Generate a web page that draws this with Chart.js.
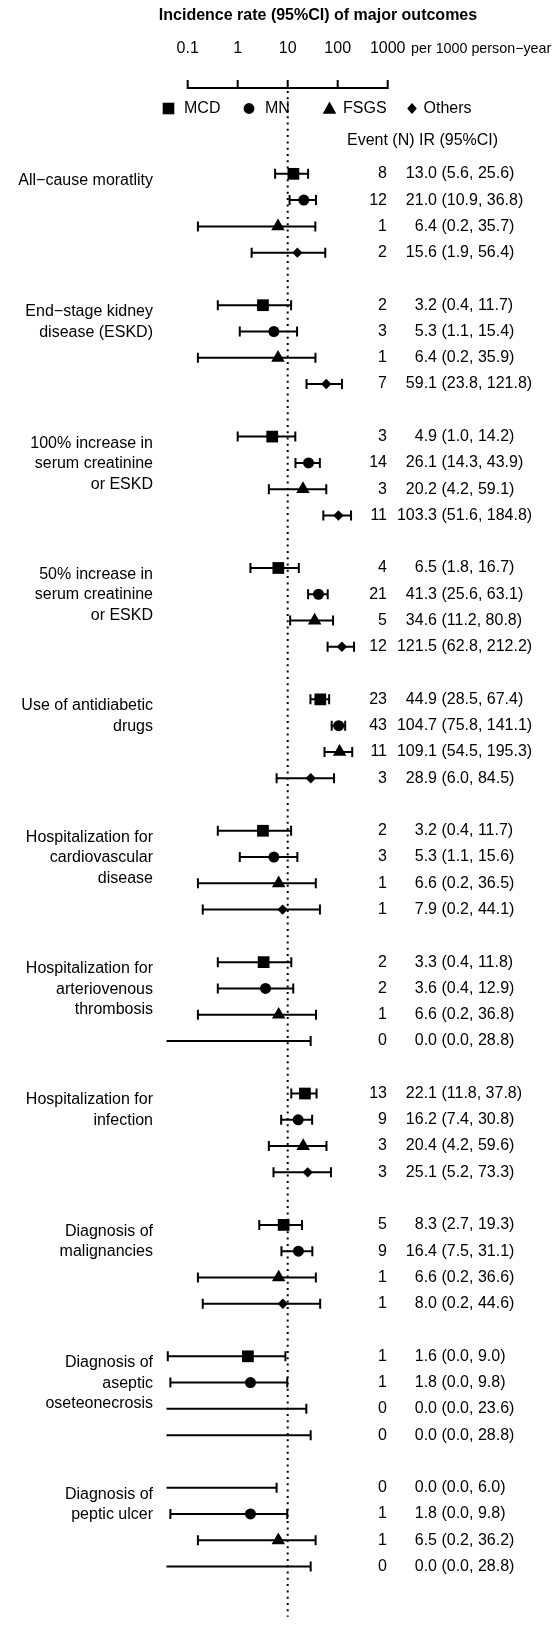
<!DOCTYPE html>
<html><head><meta charset="utf-8">
<script src="https://cdn.jsdelivr.net/npm/chart.js@4.4.1/dist/chart.umd.min.js"></script>
<style>html,body{margin:0;padding:0;background:#fff}canvas{display:block}</style>
</head><body>
<canvas id="c" width="558" height="1625"></canvas>
<script>
// ---------- data ----------
const outcomes = [
  ["All\u2212cause moratlity"],
  ["End\u2212stage kidney", "disease (ESKD)"],
  ["100% increase in", "serum creatinine", "or ESKD"],
  ["50% increase in", "serum creatinine", "or ESKD"],
  ["Use of antidiabetic", "drugs"],
  ["Hospitalization for", "cardiovascular", "disease"],
  ["Hospitalization for", "arteriovenous", "thrombosis"],
  ["Hospitalization for", "infection"],
  ["Diagnosis of", "malignancies"],
  ["Diagnosis of", "aseptic", "oseteonecrosis"],
  ["Diagnosis of", "peptic ulcer"]
];
const subtypes = ["MCD", "MN", "FSGS", "Others"];
const events = [
  [8, 12, 1, 2], [2, 3, 1, 7], [3, 14, 3, 11], [4, 21, 5, 12], [23, 43, 11, 3],
  [2, 3, 1, 1], [2, 2, 1, 0], [13, 9, 3, 3], [5, 9, 1, 1], [1, 1, 0, 0], [0, 1, 1, 0]
];
const rate = [
  [13.0, 21.0, 6.4, 15.6], [3.2, 5.3, 6.4, 59.1], [4.9, 26.1, 20.2, 103.3],
  [6.5, 41.3, 34.6, 121.5], [44.9, 104.7, 109.1, 28.9], [3.2, 5.3, 6.6, 7.9],
  [3.3, 3.6, 6.6, 0.0], [22.1, 16.2, 20.4, 25.1], [8.3, 16.4, 6.6, 8.0],
  [1.6, 1.8, 0.0, 0.0], [0.0, 1.8, 6.5, 0.0]
];
const lower = [
  [5.6, 10.9, 0.16, 1.9], [0.4, 1.1, 0.16, 23.8], [1.0, 14.3, 4.2, 51.6],
  [1.8, 25.6, 11.2, 62.8], [28.5, 75.8, 54.5, 6.0], [0.4, 1.1, 0.16, 0.2],
  [0.4, 0.4, 0.16, 0.0], [11.8, 7.4, 4.2, 5.2], [2.7, 7.5, 0.16, 0.2],
  [0.04, 0.045, 0.0, 0.0], [0.0, 0.045, 0.16, 0.0]
];
const upper = [
  [25.6, 36.8, 35.7, 56.4], [11.7, 15.4, 35.9, 121.8], [14.2, 43.9, 59.1, 184.8],
  [16.7, 63.1, 80.8, 212.2], [67.4, 141.1, 195.3, 84.5], [11.7, 15.6, 36.5, 44.1],
  [11.8, 12.9, 36.8, 28.8], [37.8, 30.8, 59.6, 73.3], [19.3, 31.1, 36.6, 44.6],
  [9.0, 9.8, 23.6, 28.8], [6.0, 9.8, 36.2, 28.8]
];
const axisTicks = [0.1, 1, 10, 100, 1000];
const refValue = 10;
const pointStyles = ["rect", "circle", "triangle", "rectRot"];
const pointRadii = [8.3, 5.5, 7.8, 5.2];

// ---------- chart ----------
const FONT = '"Liberation Sans", Arial, Helvetica, sans-serif';
const ROWS_PER_GROUP = 5;
const AXIS_Y = 88;

const datasets = subtypes.map((name, s) => ({
  label: name,
  data: outcomes.map((_, g) => rate[g][s] > 0 ? { x: rate[g][s], y: g * ROWS_PER_GROUP + s } : null).filter(Boolean),
  pointStyle: pointStyles[s],
  pointRadius: pointRadii[s],
  pointHoverRadius: pointRadii[s],
  backgroundColor: '#000',
  borderColor: '#000',
  borderWidth: 0,
  showLine: false,
  clip: false
}));

function drawMarker(ctx, style, cx, cy) {
  ctx.beginPath();
  if (style === 'rect') { ctx.rect(cx - 5.8, cy - 5.8, 11.6, 11.6); }
  else if (style === 'circle') { ctx.arc(cx, cy, 5.4, 0, Math.PI * 2); }
  else if (style === 'triangle') { ctx.moveTo(cx, cy - 7); ctx.lineTo(cx + 6.8, cy + 5.2); ctx.lineTo(cx - 6.8, cy + 5.2); ctx.closePath(); }
  else { ctx.moveTo(cx, cy - 5.4); ctx.lineTo(cx + 4.8, cy); ctx.lineTo(cx, cy + 5.4); ctx.lineTo(cx - 4.8, cy); ctx.closePath(); }
  ctx.fill();
}

const forestPlugin = {
  id: 'forest',
  beforeDatasetsDraw(chart) {
    const { ctx, chartArea, scales: { x, y } } = chart;
    ctx.save();
    ctx.strokeStyle = '#000';
    // reference dotted line
    const xr = x.getPixelForValue(refValue);
    ctx.lineWidth = 2;
    ctx.setLineDash([2, 4.3]);
    ctx.beginPath();
    ctx.moveTo(xr, AXIS_Y + 3);
    ctx.lineTo(xr, chartArea.bottom);
    ctx.stroke();
    ctx.setLineDash([]);
    // CI bars
    ctx.lineWidth = 2;
    outcomes.forEach((_, g) => subtypes.forEach((__, s) => {
      const yy = y.getPixelForValue(g * ROWS_PER_GROUP + s);
      const lo = lower[g][s], hi = upper[g][s];
      const x0 = lo > 0 ? x.getPixelForValue(lo) : chartArea.left;
      const x1 = x.getPixelForValue(hi);
      ctx.beginPath();
      ctx.moveTo(x0, yy); ctx.lineTo(x1, yy);
      ctx.moveTo(x1, yy - 5); ctx.lineTo(x1, yy + 5);
      if (lo > 0) { ctx.moveTo(x0, yy - 5); ctx.lineTo(x0, yy + 5); }
      ctx.stroke();
    }));
    ctx.restore();
  },
  afterDraw(chart) {
    const { ctx, scales: { x, y } } = chart;
    ctx.save();
    ctx.fillStyle = '#000';
    ctx.strokeStyle = '#000';
    ctx.textBaseline = 'middle';

    // title
    ctx.font = 'bold 16px ' + FONT;
    ctx.textAlign = 'center';
    ctx.fillText('Incidence rate (95%CI) of major outcomes', 318, 16);

    // top axis
    ctx.font = '16px ' + FONT;
    axisTicks.forEach(t => ctx.fillText(String(t), x.getPixelForValue(t), 49));
    ctx.font = '14.3px ' + FONT;
    ctx.textAlign = 'left';
    ctx.fillText('per 1000 person\u2212year', 411, 49);
    ctx.lineWidth = 2;
    ctx.beginPath();
    const ax0 = x.getPixelForValue(axisTicks[0]);
    const ax1 = x.getPixelForValue(axisTicks[axisTicks.length - 1]);
    ctx.moveTo(ax0 - 1, AXIS_Y); ctx.lineTo(ax1 + 1, AXIS_Y);
    axisTicks.forEach(t => { const px = x.getPixelForValue(t); ctx.moveTo(px, AXIS_Y); ctx.lineTo(px, AXIS_Y - 8); });
    ctx.stroke();

    // legend
    ctx.font = '16px ' + FONT;
    const legendY = 108.5;
    const legendX = [[168.5, 184], [249, 265], [329.5, 343], [412, 423.5]];
    subtypes.forEach((name, s) => {
      drawMarker(ctx, pointStyles[s], legendX[s][0], legendY);
      ctx.fillText(name, legendX[s][1], legendY);
    });
    ctx.fillText('Event (N) IR (95%CI)', 347, 141);

    // outcome labels
    ctx.textAlign = 'right';
    outcomes.forEach((lines, g) => {
      const y0 = y.getPixelForValue(g * ROWS_PER_GROUP) + 6.5;
      lines.forEach((ln, j) => ctx.fillText(ln, 153, y0 + j * 20.5));
    });

    // numbers
    outcomes.forEach((_, g) => subtypes.forEach((__, s) => {
      const yy = y.getPixelForValue(g * ROWS_PER_GROUP + s);
      ctx.textAlign = 'right';
      ctx.fillText(String(events[g][s]), 387, yy);
      ctx.fillText(rate[g][s].toFixed(1), 437, yy);
      ctx.textAlign = 'left';
      ctx.fillText(' (' + lower[g][s].toFixed(1) + ', ' + upper[g][s].toFixed(1) + ')', 437, yy);
    }));
    ctx.restore();
  }
};

new Chart(document.getElementById('c'), {
  type: 'scatter',
  data: { datasets },
  options: {
    responsive: false,
    animation: false,
    events: [],
    layout: { padding: { top: 95, bottom: 0, left: 166.5, right: 170.3 } },
    plugins: { legend: { display: false }, tooltip: { enabled: false } },
    scales: {
      x: { type: 'logarithmic', min: Math.pow(10, -1.424), max: 1000, display: false },
      y: { type: 'linear', min: -3, max: 54.91, reverse: true, display: false }
    }
  },
  plugins: [forestPlugin]
});
</script>
</body></html>
